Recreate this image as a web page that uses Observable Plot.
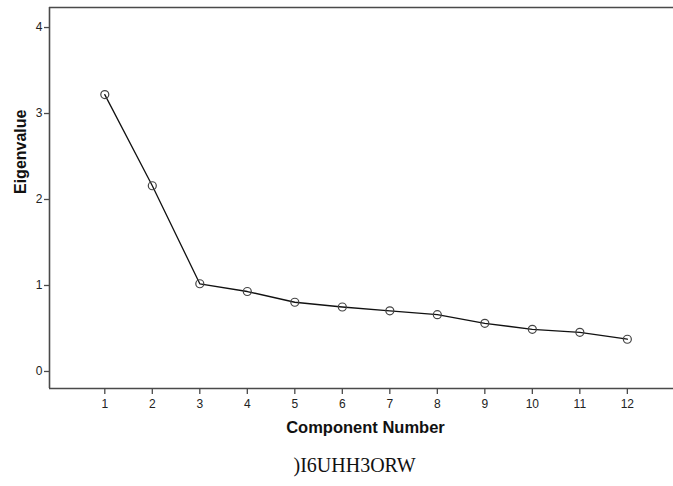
<!DOCTYPE html>
<html>
<head>
<meta charset="utf-8">
<script src="https://cdn.jsdelivr.net/npm/d3@7"></script>
<script src="https://cdn.jsdelivr.net/npm/@observablehq/plot@0.6"></script>
<style>
  html, body { margin: 0; padding: 0; background: #fff; }
  #chart svg { display: block; }
</style>
</head>
<body>
<div id="chart"></div>
<script>
const components = [1, 2, 3, 4, 5, 6, 7, 8, 9, 10, 11, 12];
const eigenvalues = [3.22, 2.16, 1.02, 0.93, 0.805, 0.75, 0.705, 0.66, 0.56, 0.49, 0.455, 0.375];
const yTicks = [0, 1, 2, 3, 4];
const xTitle = "Component Number";
const yTitle = "Eigenvalue";
const caption = ")I6UHH3ORW";

const data = components.map((c, i) => ({component: c, eigenvalue: eigenvalues[i]}));

const axisColor = "#4a4a4a";

const chart = Plot.plot({
  width: 673,
  height: 486,
  marginLeft: 49,
  marginTop: 7,
  marginBottom: 98,
  marginRight: -8,
  style: {fontFamily: "'Liberation Sans', Arial, sans-serif", background: "#fff", color: "#222"},
  x: {domain: [-0.164, 13.14], ticks: components},
  y: {domain: [-0.198, 4.233], ticks: yTicks},
  marks: [
    Plot.ruleY([4.233], {stroke: axisColor, strokeWidth: 1.6}),
    Plot.ruleX([-0.164], {stroke: axisColor, strokeWidth: 1.6}),
    Plot.ruleY([-0.198], {stroke: axisColor, strokeWidth: 1.6}),
    Plot.axisY({ticks: yTicks, tickSize: 5, tickPadding: 2, tickFormat: d3.format("d"), fontSize: 12, stroke: axisColor, strokeWidth: 1.3, label: null, fill: "#222"}),
    Plot.axisX({ticks: components, tickSize: 6, tickPadding: 5, tickFormat: d3.format("d"), fontSize: 12, stroke: axisColor, strokeWidth: 1.3, label: null, fill: "#222"}),
    Plot.line(data, {x: "component", y: "eigenvalue", stroke: "#111", strokeWidth: 1.3}),
    Plot.dot(data, {x: "component", y: "eigenvalue", r: 4, stroke: "#444", strokeWidth: 1.2, fill: "none"}),
    Plot.text([yTitle], {frameAnchor: "left", dx: -29, dy: -4, rotate: -90, fontSize: 16, fontWeight: "bold", fill: "#111"}),
    Plot.text([xTitle], {frameAnchor: "bottom", dy: 44, fontSize: 16.5, fontWeight: "bold", fill: "#111"}),
    Plot.text([caption], {frameAnchor: "bottom-left", dx: 244, dy: 83, textAnchor: "start", fontSize: 20, fontFamily: "'Liberation Serif', 'Times New Roman', serif", fill: "#111"})
  ]
});
document.getElementById("chart").appendChild(chart);
</script>
</body>
</html>
